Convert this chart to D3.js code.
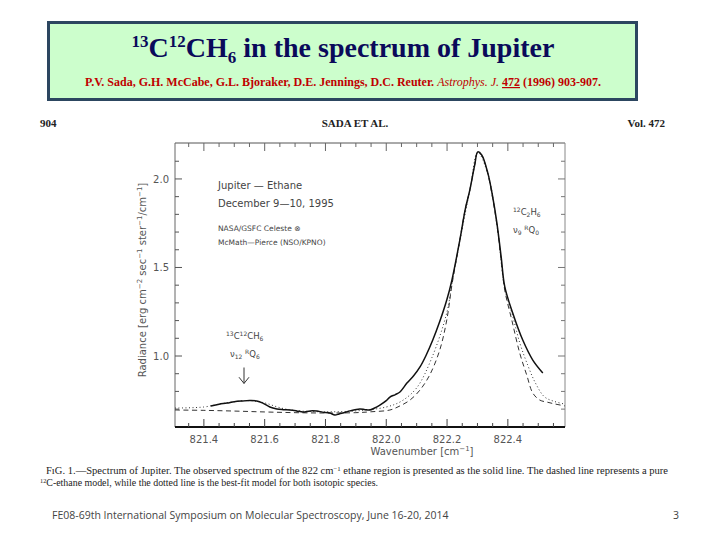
<!DOCTYPE html>
<html><head><meta charset="utf-8">
<script src="https://cdn.jsdelivr.net/npm/d3@7"></script>
<style>body{margin:0;background:#fff;}svg{display:block;}</style>
</head><body>
<svg id="c" width="720" height="540"></svg>
<script>
// ---- data ----
const solidX = [821.423,821.45,821.476,821.50,821.528,821.55,821.574,821.594,821.617,821.640,821.66,821.683,821.705,821.726,821.75,821.772,821.79,821.814,821.831,821.845,821.857,821.88,821.913,821.93,821.946,821.96,821.979,822.0,822.012,822.03,822.045,822.068,822.09,822.111,822.13,822.153,822.175,822.199,822.216,822.242,822.26,822.275,822.291,822.301,822.314,822.334,822.35,822.364,822.378,822.390,822.416,822.449,822.482,822.515];
const solidY = [0.718,0.728,0.734,0.742,0.746,0.748,0.746,0.734,0.712,0.701,0.697,0.695,0.690,0.684,0.690,0.689,0.683,0.678,0.667,0.673,0.678,0.690,0.701,0.697,0.695,0.705,0.723,0.748,0.768,0.782,0.797,0.847,0.888,0.938,1.000,1.090,1.190,1.316,1.429,1.655,1.830,1.938,2.079,2.153,2.136,2.034,1.900,1.751,1.560,1.390,1.243,1.090,0.977,0.904];
const dashX = [821.305,821.40,821.50,821.60,821.70,821.80,821.90,821.95,822.012,822.045,822.078,822.111,822.143,822.176,822.199,822.216,822.242,822.26,822.275,822.291,822.301,822.314,822.334,822.35,822.364,822.378,822.390,822.413,822.439,822.462,822.482,822.505,822.528,822.555,822.588];
const dashY = [0.695,0.693,0.689,0.684,0.680,0.678,0.680,0.685,0.695,0.718,0.751,0.808,0.893,1.034,1.203,1.401,1.655,1.830,1.938,2.079,2.150,2.132,2.030,1.890,1.740,1.540,1.370,1.203,1.017,0.893,0.791,0.751,0.740,0.729,0.718];
const dotX = [821.305,821.40,821.45,821.50,821.55,821.60,821.65,821.70,821.80,821.90,822.0,822.05,822.10,822.15,822.20,822.216,822.242,822.275,822.301,822.334,822.364,822.390,822.416,822.44,822.465,822.49,822.52,822.55,822.588];
const dotY = [0.706,0.712,0.728,0.742,0.748,0.735,0.708,0.692,0.685,0.690,0.712,0.745,0.820,0.990,1.250,1.410,1.650,1.935,2.150,2.030,1.745,1.380,1.225,1.070,0.950,0.850,0.770,0.745,0.728];
const xTicks = [821.4, 821.6, 821.8, 822.0, 822.2, 822.4];
const yTicks = [1.0, 1.5, 2.0];
const legendLines = ["Jupiter \u2014 Ethane", "December 9\u201410, 1995"];
const legendSmall = ["NASA/GSFC Celeste \u2297", "McMath\u2014Pierce (NSO/KPNO)"];

const svg = d3.select("#c");
const x = d3.scaleLinear().domain([821.305, 822.588]).range([175, 565]);
const y = d3.scaleLinear().domain([0.599, 2.203]).range([427, 143]);

// ---- header box ----
svg.append("rect").attr("x",48.5).attr("y",22.5).attr("width",588).attr("height",77)
  .attr("fill","#ccfecc").attr("stroke","#2c4660").attr("stroke-width",3);
const title = svg.append("text").attr("x",343).attr("y",57).attr("text-anchor","middle")
  .attr("font-family","Liberation Serif, serif").attr("font-weight","bold").attr("font-size",28).attr("fill","#0a0a5a");
title.append("tspan").attr("font-size",17).attr("dy",-10).text("13");
title.append("tspan").attr("dy",10).text("C");
title.append("tspan").attr("font-size",17).attr("dy",-10).text("12");
title.append("tspan").attr("dy",10).text("CH");
title.append("tspan").attr("font-size",17).attr("dy",6).text("6");
title.append("tspan").attr("dy",-6).text(" in the spectrum  of Jupiter");
const sub = svg.append("text").attr("x",343).attr("y",86).attr("text-anchor","middle")
  .attr("font-family","Liberation Serif, serif").attr("font-size",12).attr("fill","#c00000");
sub.append("tspan").attr("font-weight","bold").text("P.V. Sada, G.H. McCabe, G.L. Bjoraker, D.E. Jennings, D.C. Reuter.  ");
sub.append("tspan").attr("font-style","italic").text("Astrophys. J. ");
sub.append("tspan").attr("font-weight","bold").attr("text-decoration","underline").text("472");
sub.append("tspan").attr("font-weight","bold").text(" (1996) 903-907.");

// ---- page header ----
const hdr = {"font-family":"Liberation Serif, serif","font-size":11,"font-weight":"bold","fill":"#222"};
function st(sel,o){for(const k in o) sel.attr(k,o[k]); return sel;}
st(svg.append("text").attr("x",40).attr("y",127).text("904"),hdr);
st(svg.append("text").attr("x",355).attr("y",127).attr("text-anchor","middle").text("SADA ET AL."),hdr);
st(svg.append("text").attr("x",665).attr("y",127).attr("text-anchor","end").text("Vol. 472"),hdr);

// ---- frame ----
const g = svg.append("g");
g.append("line").attr("x1",175).attr("x2",565).attr("y1",143).attr("y2",143).attr("stroke","#555").attr("stroke-width",1);
g.append("line").attr("x1",175).attr("x2",175).attr("y1",143).attr("y2",427).attr("stroke","#666").attr("stroke-width",1);
g.append("line").attr("x1",565).attr("x2",565).attr("y1",143).attr("y2",427).attr("stroke","#888").attr("stroke-width",1);
g.append("line").attr("x1",175).attr("x2",565).attr("y1",427).attr("y2",427).attr("stroke","#111").attr("stroke-width",2);

// ticks
const xMinor = d3.range(821.35, 822.59, 0.05).filter(v => v > 821.31 && v < 822.58);
xMinor.forEach(v => {
  const major = xTicks.some(t => Math.abs(t - v) < 1e-6);
  const L = major ? 8 : 4;
  g.append("line").attr("x1",x(v)).attr("x2",x(v)).attr("y1",427).attr("y2",427-L).attr("stroke","#444");
  g.append("line").attr("x1",x(v)).attr("x2",x(v)).attr("y1",143).attr("y2",143+L).attr("stroke","#666");
});
const yMinor = d3.range(0.6, 2.21, 0.1).filter(v => v > 0.6 && v < 2.2);
yMinor.forEach(v => {
  const major = yTicks.some(t => Math.abs(t - v) < 1e-6);
  const L = major ? 7 : 4;
  g.append("line").attr("x1",175).attr("x2",175+L).attr("y1",y(v)).attr("y2",y(v)).attr("stroke","#555");
  g.append("line").attr("x1",565).attr("x2",565-L).attr("y1",y(v)).attr("y2",y(v)).attr("stroke","#777");
});
const tickFont = {"font-family":"DejaVu Sans, sans-serif","font-size":10,"fill":"#555"};
xTicks.forEach(t => st(g.append("text").attr("x",x(t)).attr("y",443).attr("text-anchor","middle").text(t.toFixed(1)),tickFont));
yTicks.forEach(t => st(g.append("text").attr("x",169).attr("y",y(t)+4).attr("text-anchor","end").text(t.toFixed(1)),tickFont));

// axis titles
const xl = st(g.append("text").attr("x",422).attr("y",455).attr("text-anchor","middle"),tickFont);
xl.append("tspan").text("Wavenumber [cm");
xl.append("tspan").attr("font-size",7).attr("dy",-4).text("\u22121");
xl.append("tspan").attr("dy",4).text("]");
const yl = st(g.append("text").attr("transform","translate(146,280) rotate(-90)").attr("text-anchor","middle"),tickFont);
yl.append("tspan").text("Radiance [erg cm");
yl.append("tspan").attr("font-size",7).attr("dy",-4).text("\u22122");
yl.append("tspan").attr("dy",4).text(" sec");
yl.append("tspan").attr("font-size",7).attr("dy",-4).text("\u22121");
yl.append("tspan").attr("dy",4).text(" ster");
yl.append("tspan").attr("font-size",7).attr("dy",-4).text("\u22121");
yl.append("tspan").attr("dy",4).text("/cm");
yl.append("tspan").attr("font-size",7).attr("dy",-4).text("\u22121");
yl.append("tspan").attr("dy",4).text("]");

// ---- curves ----
const line = d3.line().x(d => x(d[0])).y(d => y(d[1])).curve(d3.curveCatmullRom.alpha(0.5));
const zip = (a,b) => a.map((v,i) => [v,b[i]]);
g.append("path").attr("d",line(zip(dotX,dotY))).attr("fill","none").attr("stroke","#333").attr("stroke-width",1).attr("stroke-dasharray","1,2.5");
g.append("path").attr("d",line(zip(dashX,dashY))).attr("fill","none").attr("stroke","#333").attr("stroke-width",1).attr("stroke-dasharray","5,3.5");
g.append("path").attr("d",line(zip(solidX,solidY))).attr("fill","none").attr("stroke","#111").attr("stroke-width",1.5);

// ---- legend / annotations ----
const ann = {"font-family":"DejaVu Sans, sans-serif","fill":"#444"};
legendLines.forEach((s,i) => st(svg.append("text").attr("x",218).attr("y",189 + i*18).attr("font-size",10).text(s),ann));
legendSmall.forEach((s,i) => st(svg.append("text").attr("x",218).attr("y",231 + i*14).attr("font-size",7.5).text(s),ann));

function isoLabel(px, py, parts){
  const t = st(svg.append("text").attr("x",px).attr("y",py).attr("font-size",8.5),ann);
  parts.forEach(p => {
    const ts = t.append("tspan").text(p[0]);
    if (p[1] === "sup") ts.attr("font-size",6).attr("dy",-3);
    else if (p[1] === "sub") ts.attr("font-size",6).attr("dy",2);
    else if (p[1] === "up") ts.attr("dy",3);
    else if (p[1] === "dn") ts.attr("dy",-2);
  });
}
isoLabel(226, 339, [["13","sup"],["C","up"],["12","sup"],["CH","up"],["6","sub"]]);
isoLabel(230, 357, [["\u03bd",""],["12","sub"],["  ","dn"],["R","sup"],["Q","up"],["6","sub"]]);
isoLabel(513, 215, [["12","sup"],["C","up"],["2","sub"],["H","dn"],["6","sub"]]);
isoLabel(513, 233, [["\u03bd",""],["9","sub"],["  ","dn"],["R","sup"],["Q","up"],["0","sub"]]);

// arrow
const ax = x(821.532);
svg.append("line").attr("x1",ax).attr("x2",ax).attr("y1",y(0.935)).attr("y2",y(0.845)).attr("stroke","#333");
svg.append("path").attr("d",`M${ax-5},${y(0.88)}L${ax},${y(0.845)}L${ax+5},${y(0.88)}`).attr("fill","none").attr("stroke","#333");

// ---- caption ----
const cap = {"font-family":"Liberation Serif, serif","font-size":10.2,"fill":"#222"};
const c1 = st(svg.append("text").attr("x",46).attr("y",474).attr("textLength",622).attr("lengthAdjust","spacingAndGlyphs"),cap);
c1.append("tspan").text("F\u0131G. 1.\u2014Spectrum of Jupiter. The observed spectrum of the 822 cm");
c1.append("tspan").attr("font-size",6.5).attr("dy",-3).text("\u22121");
c1.append("tspan").attr("dy",3).text(" ethane region is presented as the solid line. The dashed line represents a pure");
const c2 = st(svg.append("text").attr("x",40).attr("y",486).attr("textLength",338).attr("lengthAdjust","spacingAndGlyphs"),cap);
c2.append("tspan").attr("font-size",6.5).attr("dy",-3).text("12");
c2.append("tspan").attr("dy",3).text("C-ethane model, while the dotted line is the best-fit model for both isotopic species.");

// ---- footer ----
svg.append("text").attr("x",52).attr("y",519).attr("font-family","Open Sans, sans-serif").attr("font-size",10.5).attr("fill","#444")
  .text("FE08-69th International Symposium on Molecular Spectroscopy, June 16-20, 2014");
svg.append("text").attr("x",673).attr("y",519).attr("font-family","Open Sans, sans-serif").attr("font-size",10.5).attr("fill","#444").text("3");
</script>
</body></html>
